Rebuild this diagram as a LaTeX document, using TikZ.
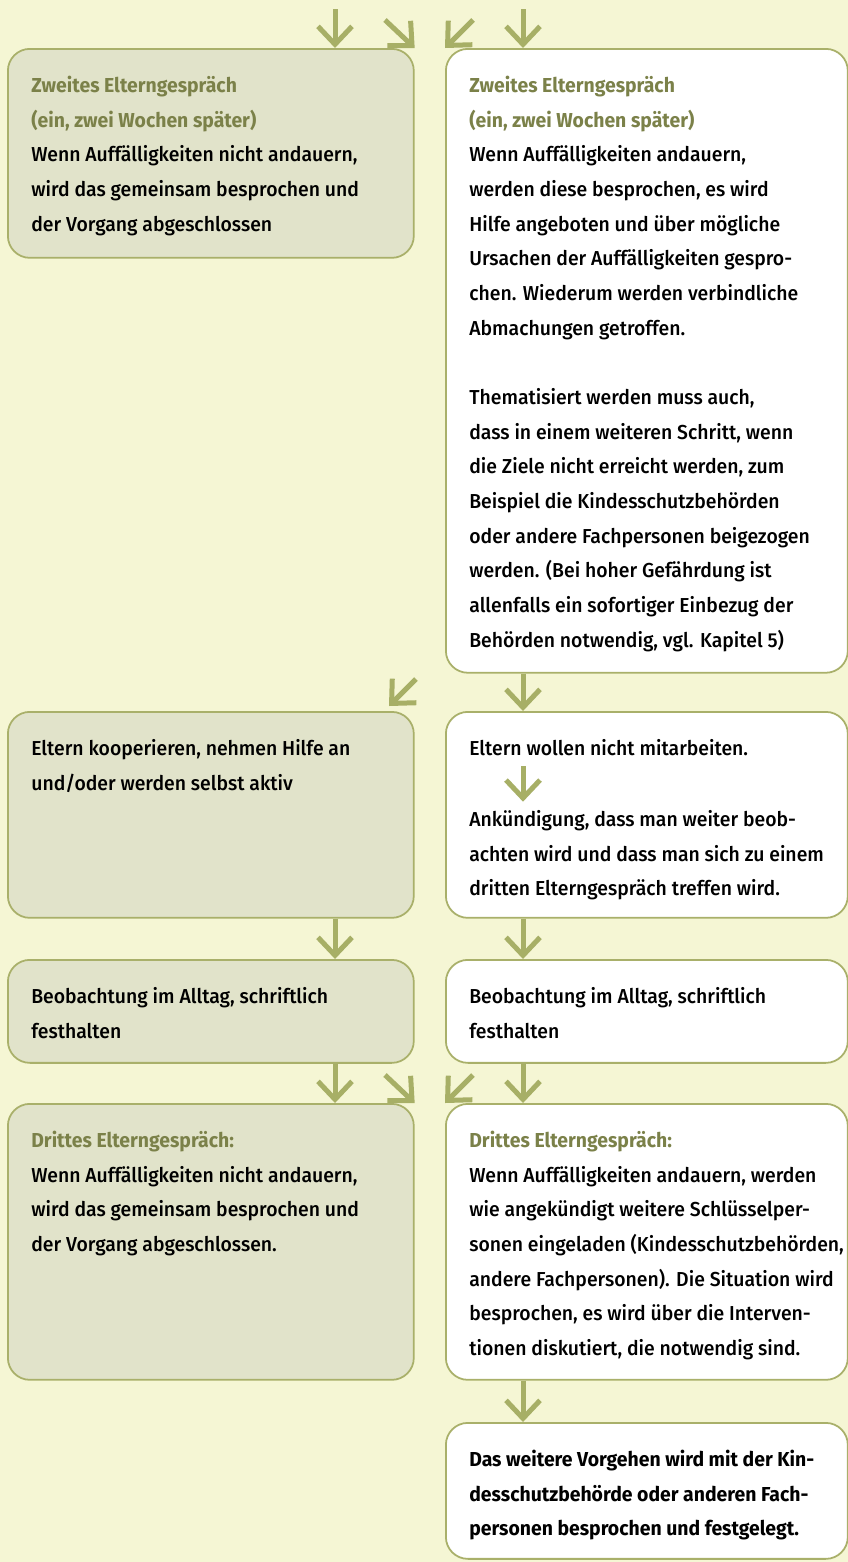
\documentclass[tikz,border=0pt]{standalone}
\usepackage{fontspec}
\setmainfont{Fira Sans}[UprightFont={* Medium},BoldFont={* Bold},FakeStretch=0.96]
\usetikzlibrary{arrows.meta,positioning}

\definecolor{bgyellow}{HTML}{F5F6D4}
\definecolor{boxgreen}{HTML}{E1E3CA}
\definecolor{rimolive}{HTML}{A9B06A}
\definecolor{arrolive}{HTML}{A7AF66}
\definecolor{headolive}{HTML}{7B8149}

\tikzset{
  box/.style={draw=rimolive, line width=1pt, rounded corners=0.44cm,
              anchor=north west, inner sep=0pt},
  lbox/.style={box, fill=boxgreen, minimum width=8.12cm},
  rbox/.style={box, fill=white, minimum width=8.04cm},
  txt/.style={align=left, inner sep=0pt,
              font=\fontsize{11.5}{19.74}\selectfont},
  boldtxt/.style={txt, font=\fontsize{11.5}{19.74}\selectfont\bfseries},
  arr/.style={draw=arrolive, line width=0.1cm,
              -{Straight Barb[length=0.36cm,width=0.68cm,line join=miter]}},
}
\newcommand{\headline}[1]{\textcolor{headolive}{\bfseries #1}}

\begin{document}
\begin{tikzpicture}[x=0.02cm,y=-0.02cm]

   % Background
   \fill[bgyellow] (0,0) rectangle (848,1562);
   \useasboundingbox (0,0) rectangle (848,1562);

   % Boxes
   \node[lbox, minimum height=4.18cm]  (zweitL)  at (7,48)    {};
   \node[rbox, minimum height=12.48cm] (zweitR)  at (445,48)  {};
   \node[lbox, minimum height=4.12cm]  (koopL)   at (7,711)   {};
   \node[rbox, minimum height=4.12cm]  (nichtR)  at (445,711) {};
   \node[lbox, minimum height=2.06cm]  (beobL)   at (7,959)   {};
   \node[rbox, minimum height=2.06cm]  (beobR)   at (445,959) {};
   \node[lbox, minimum height=5.52cm]  (drittL)  at (7,1103)  {};
   \node[rbox, minimum height=5.52cm]  (drittR)  at (445,1103) {};
   \node[rbox, minimum height=2.72cm]  (weiterR) at (445,1422) {};

   % Texts
   \node[txt, below right=0.394cm and 0.48cm of zweitL.north west] (zweitLtxt)
      {\strut\headline{Zweites Elterngespräch}\\
       \headline{(ein, zwei Wochen später)}\\
       Wenn Auffälligkeiten nicht andauern,\\
       wird das gemeinsam besprochen und\\
       der Vorgang abgeschlossen};
   \node[txt, below right=0.394cm and 0.48cm of zweitR.north west] (zweitRtxt)
      {\strut\headline{Zweites Elterngespräch}\\
       \headline{(ein, zwei Wochen später)}\\
       Wenn Auffälligkeiten andauern,\\
       werden diese besprochen, es wird\\
       Hilfe angeboten und über mögliche\\
       Ursachen der Auffälligkeiten gespro-\\
       chen. Wiederum werden verbindliche\\
       Abmachungen getroffen.\\
       \strut\\
       Thematisiert werden muss auch,\\
       dass in einem weiteren Schritt, wenn\\
       die Ziele nicht erreicht werden, zum\\
       Beispiel die Kindesschutzbehörden\\
       oder andere Fachpersonen beigezogen\\
       werden. (Bei hoher Gefährdung ist\\
       allenfalls ein sofortiger Einbezug der\\
       Behörden notwendig, vgl. Kapitel 5)};
   \node[txt, below right=0.394cm and 0.48cm of koopL.north west] (koopLtxt)
      {\strut Eltern kooperieren, nehmen Hilfe an\\
       und/oder werden selbst aktiv};
   \node[txt, below right=0.394cm and 0.48cm of nichtR.north west] (nichtA)
      {\strut Eltern wollen nicht mitarbeiten.};
   \node[txt, below right=1.814cm and 0.48cm of nichtR.north west] (nichtB)
      {\strut Ankündigung, dass man weiter beob-\\
       achten wird und dass man sich zu einem\\
       dritten Elterngespräch treffen wird.};
   \node[txt, below right=0.394cm and 0.48cm of beobL.north west] (beobLtxt)
      {\strut Beobachtung im Alltag, schriftlich\\
       festhalten};
   \node[txt, below right=0.394cm and 0.48cm of beobR.north west] (beobRtxt)
      {\strut Beobachtung im Alltag, schriftlich\\
       festhalten};
   \node[txt, below right=0.394cm and 0.48cm of drittL.north west] (drittLtxt)
      {\strut\headline{Drittes Elterngespräch:}\\
       Wenn Auffälligkeiten nicht andauern,\\
       wird das gemeinsam besprochen und\\
       der Vorgang abgeschlossen.};
   \node[txt, below right=0.394cm and 0.48cm of drittR.north west] (drittRtxt)
      {\strut\headline{Drittes Elterngespräch:}\\
       Wenn Auffälligkeiten andauern, werden\\
       wie angekündigt weitere Schlüsselper-\\
       sonen eingeladen (Kindesschutzbehörden,\\
       andere Fachpersonen). Die Situation wird\\
       besprochen, es wird über die Interven-\\
       tionen diskutiert, die notwendig sind.};
   \node[boldtxt, below right=0.394cm and 0.48cm of weiterR.north west] (weiterRtxt)
      {\strut Das weitere Vorgehen wird mit der Kin-\\
       desschutzbehörde oder anderen Fach-\\
       personen besprochen und festgelegt.};

   % Arrow columns and free ends
   \coordinate (colL) at (335,0);
   \coordinate (colR) at (523,0);
   \coordinate (inL)  at (335,9);
   \coordinate (inR)  at (523,9);
   \coordinate (inDR) at (385,20);
   \coordinate (inDL) at (473,20);
   \coordinate (koopA) at (416,679);
   \coordinate (koopB) at (389,706);
   \coordinate (drDR) at (385,1075);
   \coordinate (drDL) at (473,1075);

   % Arrows
   \draw[arr] (inL)  -- (zweitL.north -| colL);
   \draw[arr] (inR)  -- (zweitR.north -| colR);
   \draw[arr] (inDR) -- (zweitL.north east);
   \draw[arr] (inDL) -- (zweitR.north west);

   \draw[arr] (koopA) -- (koopB);
   \draw[arr] (zweitR.south -| colR) -- (nichtR.north -| colR);
   \draw[arr] (nichtA.south -| colR) -- (nichtB.north -| colR);

   \draw[arr] (koopL.south -| colL)  -- (beobL.north -| colL);
   \draw[arr] (nichtR.south -| colR) -- (beobR.north -| colR);

   \draw[arr] (beobL.south -| colL) -- (drittL.north -| colL);
   \draw[arr] (beobR.south -| colR) -- (drittR.north -| colR);
   \draw[arr] (drDR) -- (drittL.north east);
   \draw[arr] (drDL) -- (drittR.north west);

   \draw[arr] (drittR.south -| colR) -- (weiterR.north -| colR);

\end{tikzpicture}
\end{document}
